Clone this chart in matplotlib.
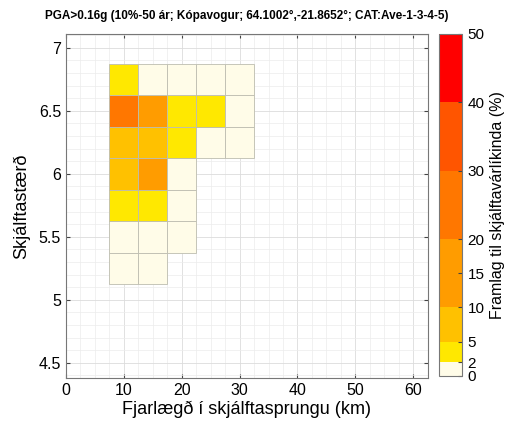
import numpy as np
import matplotlib
matplotlib.use('Agg')
import matplotlib.pyplot as plt
from matplotlib.colors import ListedColormap, BoundaryNorm
from matplotlib.cm import ScalarMappable

plt.rcParams['font.family'] = ['Liberation Sans', 'DejaVu Sans']

# distance bins (km) and magnitude bins
dists = [10, 15, 20, 25, 30]
mags = [5.25, 5.5, 5.75, 6.0, 6.25, 6.5, 6.75]
# contribution to hazard (%), rows = mags, cols = dists
contrib = [
    [0.8, 0.6, np.nan, np.nan, np.nan],
    [1.2, 1.0, 0.5, np.nan, np.nan],
    [3.5, 3.2, 1.0, np.nan, np.nan],
    [8.0, 13.0, 1.5, np.nan, np.nan],
    [7.0, 7.0, 3.0, 1.0, 0.6],
    [24.0, 12.0, 3.5, 2.5, 1.2],
    [2.5, 1.5, 1.2, 0.8, 0.5],
]
levels = [0, 2, 5, 10, 20, 30, 40, 50]
level_colors = ['#fffce8', '#ffe800', '#ffc100', '#ff9c00', '#ff7700', '#ff5500', '#ff0000']
cbar_ticks = [0, 2, 5, 10, 15, 20, 30, 40, 50]

cmap = ListedColormap(level_colors)
norm = BoundaryNorm(levels, cmap.N)

fig = plt.figure(figsize=(5.11, 4.30), dpi=100)
ax = fig.add_axes([0.129, 0.121, 0.708, 0.800])
cax = fig.add_axes([0.859, 0.126, 0.045, 0.795])

dx, dy = 5, 0.25
for i, m in enumerate(mags):
    for j, d in enumerate(dists):
        v = contrib[i][j]
        if np.isnan(v):
            continue
        ax.bar(d, dy, width=dx, bottom=m - dy / 2, color=cmap(norm(v)),
               edgecolor='#bdbdb0', linewidth=0.6, zorder=3)

ax.set_xlim(0, 62.5)
ax.set_ylim(4.38, 7.11)
ax.set_xticks(np.arange(0, 61, 10))
ax.set_yticks([4.5, 5, 5.5, 6, 6.5, 7])
ax.set_yticklabels(['4.5', '5', '5.5', '6', '6.5', '7'])
ax.set_xticks(np.arange(0, 62.5, 2.5), minor=True)
ax.set_yticks(np.arange(4.4, 7.11, 0.1), minor=True)
ax.grid(True, which='major', color='#dcdcdc', linewidth=0.6, zorder=0)
ax.grid(True, which='minor', color='#ececec', linewidth=0.5, zorder=0)
ax.set_axisbelow(True)
ax.tick_params(which='major', direction='in', top=True, right=True,
               length=3, color='#444444', labelsize=11.5)
ax.tick_params(which='minor', length=0)
for s in ax.spines.values():
    s.set_color('#777777')
    s.set_linewidth(0.8)

ax.set_xlabel('Fjarlægð í skjálftasprungu (km)', fontsize=13, labelpad=2)
ax.set_ylabel('Skjálftastærð', fontsize=13, labelpad=6)
ax.set_title('PGA>0.16g (10%-50 ár; Kópavogur; 64.1002°,-21.8652°; CAT:Ave-1-3-4-5)',
             fontsize=8.5, fontweight='bold', pad=11)

sm = ScalarMappable(norm=norm, cmap=cmap)
cb = fig.colorbar(sm, cax=cax, boundaries=levels, ticks=cbar_ticks, spacing='proportional')
cb.outline.set_edgecolor('#777777')
cb.outline.set_linewidth(0.8)
cax.tick_params(direction='in', length=3, color='#444444', labelsize=11, pad=4)
cb.set_label('Framlag til skjálftavárlíkinda (%)', fontsize=11.5, labelpad=4)

fig.savefig('out.png', dpi=100)
